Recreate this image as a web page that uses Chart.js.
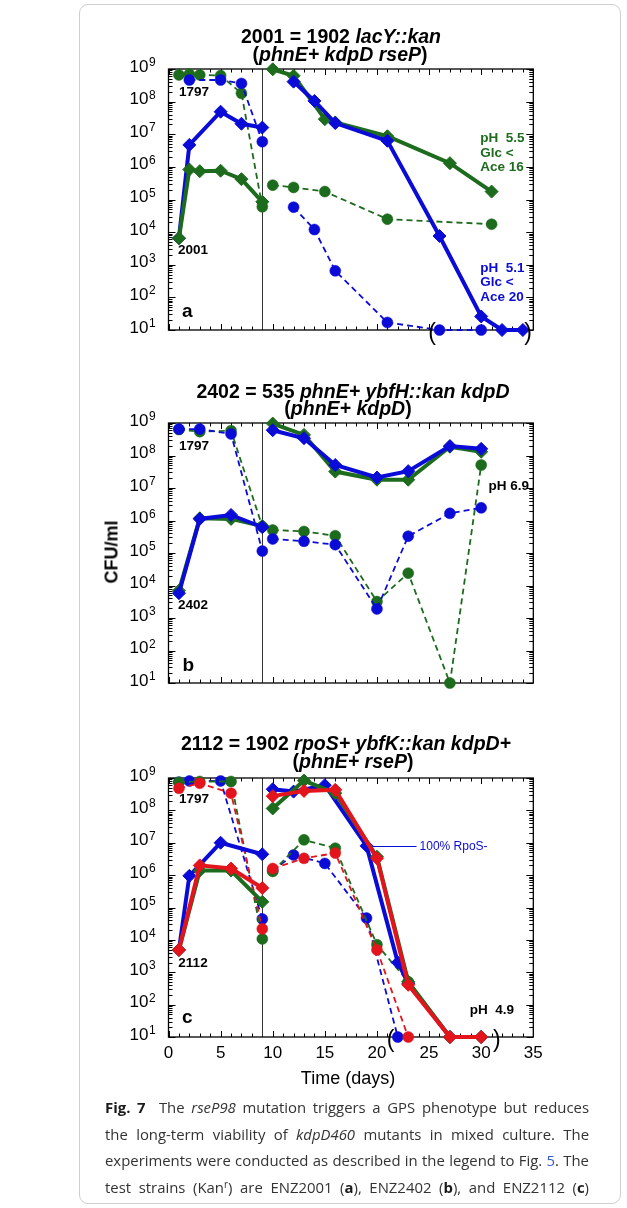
<!DOCTYPE html>
<html>
<head>
<meta charset="utf-8">
<script src="https://cdn.jsdelivr.net/npm/chart.js@4.4.1/dist/chart.umd.min.js"></script>
<style>
  html, body { margin: 0; padding: 0; background: #fff; }
  #page { position: relative; width: 627px; height: 1208px; overflow: hidden;
          font-family: "Liberation Sans", Arial, Helvetica, sans-serif; color: #000; }
  canvas { position: absolute; left: 0; top: 0; }
  .box { position: absolute; left: 79px; top: 4px; width: 542px; height: 1200px;
         border: 1px solid #cfcfcf; border-radius: 9px; box-sizing: border-box; }
  .ttl { position: absolute; width: 480px; text-align: center; font-weight: bold;
         font-size: 19.5px; line-height: 19px; white-space: nowrap; }
  .ytitle { position: absolute; left: 112px; top: 552px; font-weight: bold; font-size: 18px;
            transform: translate(-50%, -50%) rotate(-90deg); white-space: nowrap; }
  .xtitle { position: absolute; left: 348px; top: 1078px; font-size: 18px;
            transform: translate(-50%, -50%); white-space: nowrap; }
  .cap { position: absolute; left: 105px; top: 1094px; width: 484px;
         font-family: "Open Sans", "Noto Sans", sans-serif;
         font-size: 14.9px; line-height: 26.5px; color: #333; }
  .cap div { white-space: nowrap; text-align: justify; text-align-last: justify; height: 26.5px; }
  .cap b { color: #1a1a1a; }
  .cap .lnk { color: #3a5cc8; }
  .cap sup { font-size: 10px; line-height: 0; vertical-align: 5px; }
</style>
</head>
<body>
<div id="page">
  <div class="box"></div>
  <canvas id="pa" width="627" height="1208"></canvas>
  <canvas id="pb" width="627" height="1208"></canvas>
  <canvas id="pc" width="627" height="1208"></canvas>

  <div class="ttl" style="left:101px; top:26.5px;">2001 = 1902 <i>lacY::kan</i></div>
  <div class="ttl" style="left:100px; top:44.5px;">(<i>phnE+ kdpD rseP</i>)</div>
  <div class="ttl" style="left:113px; top:382px;">2402 = 535 <i>phnE+ ybfH::kan kdpD</i></div>
  <div class="ttl" style="left:108px; top:399px;">(<i>phnE+ kdpD</i>)</div>
  <div class="ttl" style="left:106px; top:734px;">2112 = 1902 <i>rpoS+ ybfK::kan kdpD+</i></div>
  <div class="ttl" style="left:113px; top:751.5px;">(<i>phnE+ rseP</i>)</div>

  <div class="ytitle">CFU/ml</div>
  <div class="xtitle">Time (days)</div>

  <div class="cap">
    <div><b>Fig. 7</b>&nbsp; The <i>rseP98</i> mutation triggers a GPS phenotype but reduces</div>
    <div>the long-term viability of <i>kdpD460</i> mutants in mixed culture. The</div>
    <div>experiments were conducted as described in the legend to Fig. <span class="lnk">5</span>. The</div>
    <div>test strains (Kan<sup>r</sup>) are ENZ2001 (<b>a</b>), ENZ2402 (<b>b</b>), and ENZ2112 (<b>c</b>)</div>
  </div>
</div>

<script>
// ---------- colours ----------
const GREEN = '#1d6b1d';
const BLUE = '#0b0bd8';
const RED = '#e3141c';

// ---------- panel a: pH 5.5 (green) and pH 5.1 (blue) ----------
// test strain 2001 (solid, diamonds)
const aGreenTestPreDays = [1, 2, 3, 5, 7, 9];
const aGreenTestPre     = [6.5e3, 8.3e5, 7.4e5, 7.6e5, 4.2e5, 8.5e4];
const aGreenTestPostDays = [10, 12, 15, 16, 21, 27, 31];
const aGreenTestPost     = [9.8e8, 6.2e8, 2.9e7, 2.3e7, 8.7e6, 1.3e6, 1.75e5];
const aBlueTestPreDays = [1, 2, 5, 7, 9];
const aBlueTestPre     = [6.5e3, 4.7e6, 4.9e7, 2.1e7, 1.6e7];
const aBlueTestPostDays = [12, 14, 16, 21, 26, 30, 32, 34];
const aBlueTestPost     = [4.1e8, 1.05e8, 2.2e7, 6.3e6, 7.6e3, 26, 10, 10];
// competitor 1797 (dashed, circles)
const aGreenCompPreDays = [1, 2, 3, 5, 7, 9];
const aGreenCompPre     = [6.6e8, 6.9e8, 6.6e8, 6.3e8, 1.8e8, 6.0e4];
const aGreenCompPostDays = [10, 12, 15, 21, 31];
const aGreenCompPost     = [2.75e5, 2.35e5, 1.75e5, 2.5e4, 1.75e4];
const aBlueCompPreDays = [2, 5, 7, 9];
const aBlueCompPre     = [4.6e8, 4.6e8, 3.6e8, 5.9e6];
const aBlueCompPostDays = [12, 14, 16, 21, 26, 30];
const aBlueCompPost     = [5.8e4, 1.2e4, 650, 17, 10, 10];

// ---------- panel b: pH 6.9 ----------
const bGreenTestPreDays = [1, 3, 6, 9];
const bGreenTestPre     = [6.9e3, 1.17e6, 1.12e6, 6.8e5];
const bGreenTestPostDays = [10, 13, 16, 20, 23, 27, 30];
const bGreenTestPost     = [9.6e8, 4.3e8, 3.2e7, 1.8e7, 1.8e7, 1.86e8, 1.3e8];
const bBlueTestPreDays = [1, 3, 6, 9];
const bBlueTestPre     = [5.8e3, 1.12e6, 1.48e6, 6.2e5];
const bBlueTestPostDays = [10, 13, 16, 20, 23, 27, 30];
const bBlueTestPost     = [6.0e8, 3.4e8, 5.1e7, 2.1e7, 3.3e7, 1.95e8, 1.6e8];
const bGreenCompPreDays = [1, 3, 6, 9];
const bGreenCompPre     = [6.3e8, 5.4e8, 5.8e8, 6.5e5];
const bGreenCompPostDays = [10, 13, 16, 20, 23, 27, 30];
const bGreenCompPost     = [5.1e5, 4.6e5, 3.4e5, 3.2e3, 2.4e4, 10, 5.1e7];
const bBlueCompPreDays = [1, 3, 6, 9];
const bBlueCompPre     = [6.5e8, 6.5e8, 4.6e8, 1.15e5];
const bBlueCompPostDays = [10, 13, 16, 20, 23, 27, 30];
const bBlueCompPost     = [2.7e5, 2.3e5, 1.8e5, 1.9e3, 3.3e5, 1.66e6, 2.45e6];

// ---------- panel c: pH 4.9 ----------
const cBlueTestPreDays = [1, 2, 5, 9];
const cBlueTestPre     = [4.9e3, 9.5e5, 1.0e7, 4.4e6];
const cBlueTestPostDays = [10, 12, 15, 19, 22, 23, 27, 30];
const cBlueTestPost     = [4.5e8, 3.8e8, 6.0e8, 8.0e6, 2.0e3, 4.6e2, 10, 10];
const cGreenTestPreDays = [1, 3, 6, 9];
const cGreenTestPre     = [4.9e3, 1.38e6, 1.38e6, 1.5e5];
const cGreenTestPostDays = [10, 13, 16, 20, 23, 27, 30];
const cGreenTestPost     = [1.15e8, 8.3e8, 3.4e8, 3.7e6, 5.1e2, 10, 10];
const cRedTestPreDays = [1, 3, 6, 9];
const cRedTestPre     = [4.9e3, 2.0e6, 1.6e6, 4.0e5];
const cRedTestPostDays = [10, 13, 16, 20, 23, 27, 30];
const cRedTestPost     = [2.75e8, 4.0e8, 4.3e8, 3.3e6, 4.1e2, 10, 10];
const cBlueCompPreDays = [1, 2, 5, 9];
const cBlueCompPre     = [7.4e8, 8.1e8, 8.1e8, 4.4e4];
const cBlueCompPostDays = [10, 12, 15, 19, 22];
const cBlueCompPost     = [1.4e6, 4.2e6, 2.3e6, 4.7e4, 10];
const cGreenCompPreDays = [1, 3, 6, 9];
const cGreenCompPre     = [7.4e8, 7.8e8, 7.8e8, 1.07e4];
const cGreenCompPostDays = [10, 13, 16, 20, 23];
const cGreenCompPost     = [1.3e6, 1.23e7, 6.8e6, 7.1e3, 5.1e2];
const cRedCompPreDays = [1, 3, 6, 9];
const cRedCompPre     = [4.8e8, 6.9e8, 3.4e8, 2.2e4];
const cRedCompPostDays = [10, 13, 16, 20, 23];
const cRedCompPost     = [1.6e6, 3.3e6, 4.8e6, 4.9e3, 10];

// ---------- axis settings ----------
const xMin = 0, xMax = 35;
const yMin = 10, yMax = 1e9;
const xTickLabels = [0, 5, 10, 15, 20, 25, 30, 35];
const decadeExponents = [1, 2, 3, 4, 5, 6, 7, 8, 9];
const dividerDay = 9;

// ---------- helpers ----------
const pts = (days, vals) => days.map((d, i) => ({ x: d, y: vals[i] }));

function testSeries(label, color, days, vals) {
  return {
    label, data: pts(days, vals), borderColor: color, backgroundColor: color,
    borderWidth: 4, pointStyle: 'rectRot', pointRadius: 6.5, pointHoverRadius: 6.5,
    pointBackgroundColor: color, pointBorderColor: color, pointBorderWidth: 1,
    tension: 0, fill: false, clip: false
  };
}
function compSeries(label, color, days, vals) {
  return {
    label, data: pts(days, vals), borderColor: color, backgroundColor: color,
    borderWidth: 1.8, borderDash: [6, 4], pointStyle: 'circle', pointRadius: 5.5, pointHoverRadius: 5.5,
    pointBackgroundColor: color, pointBorderColor: color, pointBorderWidth: 0.5,
    tension: 0, fill: false, clip: false
  };
}

const FONT = '"Liberation Sans", Arial, Helvetica, sans-serif';

function frameAxes(opts) {
  return {
    id: 'frameAxes',
    beforeDatasetsDraw(chart) {
      const { ctx, chartArea: a, scales: { x, y } } = chart;
      ctx.save();
      ctx.strokeStyle = '#000';
      ctx.lineWidth = 1;
      ctx.beginPath();
      // day ticks, top and bottom, pointing inward
      for (let d = xMin; d <= xMax; d++) {
        const px = Math.round(x.getPixelForValue(d)) + 0.5;
        const len = d % 5 === 0 ? 6 : 3.5;
        ctx.moveTo(px, a.bottom); ctx.lineTo(px, a.bottom - len);
        ctx.moveTo(px, a.top); ctx.lineTo(px, a.top + len);
      }
      // log ticks, left and right, pointing inward
      for (let e = 1; e <= 9; e++) {
        for (let m = 1; m <= 9; m++) {
          const v = m * Math.pow(10, e);
          if (v > yMax) break;
          const py = Math.round(y.getPixelForValue(v)) + 0.5;
          const len = m === 1 ? 7 : 4;
          ctx.moveTo(a.left, py); ctx.lineTo(a.left + len, py);
          ctx.moveTo(a.right, py); ctx.lineTo(a.right - len, py);
        }
      }
      ctx.stroke();
      // divider at the transfer day
      const vx = Math.round(x.getPixelForValue(dividerDay)) + 0.5;
      ctx.lineWidth = 1;
      ctx.strokeStyle = '#333';
      ctx.beginPath(); ctx.moveTo(vx, a.top); ctx.lineTo(vx, a.bottom); ctx.stroke();
      // plot frame
      ctx.strokeStyle = '#000';
      ctx.lineWidth = 1.3;
      ctx.strokeRect(a.left, a.top, a.right - a.left, a.bottom - a.top);
      // decade labels 10^n
      ctx.fillStyle = '#000';
      decadeExponents.forEach(e => {
        const py = y.getPixelForValue(Math.pow(10, e));
        ctx.font = '17px ' + FONT;
        ctx.textAlign = 'right'; ctx.textBaseline = 'alphabetic';
        ctx.fillText('10', a.left - 20, py + 2.5);
        ctx.font = '12px ' + FONT;
        ctx.textAlign = 'left';
        ctx.fillText(String(e), a.left - 19.5, py - 3);
      });
      if (opts.xLabels) {
        ctx.font = '17px ' + FONT;
        ctx.textAlign = 'center'; ctx.textBaseline = 'middle';
        xTickLabels.forEach(t => ctx.fillText(String(t), x.getPixelForValue(t), a.bottom + 16));
      }
      ctx.restore();
    },
    afterDatasetsDraw(chart) {
      const { ctx, scales: { x, y } } = chart;
      ctx.save();
      (opts.notes || []).forEach(n => {
        ctx.font = n.font;
        ctx.fillStyle = n.color || '#000';
        ctx.textAlign = n.align || 'center';
        ctx.textBaseline = 'middle';
        const px = x.getPixelForValue(n.day);
        const py = y.getPixelForValue(Math.pow(10, n.log));
        ctx.fillText(n.text, px, py);
      });
      (opts.links || []).forEach(l => {
        const py = Math.round(y.getPixelForValue(l.value)) + 0.5;
        ctx.strokeStyle = l.color; ctx.lineWidth = 1;
        ctx.beginPath();
        ctx.moveTo(x.getPixelForValue(l.fromDay) + 6, py);
        ctx.lineTo(x.getPixelForValue(l.toDay), py);
        ctx.stroke();
        ctx.font = l.font; ctx.fillStyle = l.color;
        ctx.textAlign = 'left'; ctx.textBaseline = 'middle';
        ctx.fillText(l.text, x.getPixelForValue(l.toDay) + 3, py);
      });
      ctx.restore();
    }
  };
}

function makePanel(id, area, datasets, opts) {
  const W = 627, H = 1208;
  return new Chart(document.getElementById(id), {
    type: 'line',
    data: { datasets },
    options: {
      responsive: false, animation: false, devicePixelRatio: 1,
      layout: { padding: { left: area.left, right: W - area.right, top: area.top, bottom: H - area.bottom } },
      scales: {
        x: { type: 'linear', min: xMin, max: xMax, display: false },
        y: { type: 'logarithmic', min: yMin, max: yMax, display: false }
      },
      plugins: { legend: { display: false }, tooltip: { enabled: false } },
      events: []
    },
    plugins: [frameAxes(opts)]
  });
}

const B13 = 'bold 13.5px ' + FONT;
const B19 = 'bold 19px ' + FONT;
const PAREN = '23px ' + FONT;

// panel a
makePanel('pa', { left: 168.5, right: 533.3, top: 69, bottom: 330 }, [
  testSeries('2001 pH 5.1', BLUE, aBlueTestPostDays, aBlueTestPost),
  testSeries('2001 pH 5.5', GREEN, aGreenTestPreDays, aGreenTestPre),
  testSeries('2001 pH 5.1', BLUE, aBlueTestPreDays, aBlueTestPre),
  testSeries('2001 pH 5.5', GREEN, aGreenTestPostDays, aGreenTestPost),
  compSeries('1797 pH 5.1', BLUE, aBlueCompPreDays, aBlueCompPre),
  compSeries('1797 pH 5.1', BLUE, aBlueCompPostDays, aBlueCompPost),
  compSeries('1797 pH 5.5', GREEN, aGreenCompPreDays, aGreenCompPre),
  compSeries('1797 pH 5.5', GREEN, aGreenCompPostDays, aGreenCompPost)
], {
  notes: [
    { text: '1797', day: 2.45, log: 8.29, font: B13 },
    { text: '2001', day: 2.35, log: 3.45, font: B13 },
    { text: 'a', day: 1.8, log: 1.55, font: B19 },
    { text: 'pH  5.5', day: 29.9, log: 6.88, font: B13, color: GREEN, align: 'left' },
    { text: 'Glc <', day: 29.9, log: 6.43, font: B13, color: GREEN, align: 'left' },
    { text: 'Ace 16', day: 29.9, log: 5.99, font: B13, color: GREEN, align: 'left' },
    { text: 'pH  5.1', day: 29.9, log: 2.90, font: B13, color: BLUE, align: 'left' },
    { text: 'Glc <', day: 29.9, log: 2.45, font: B13, color: BLUE, align: 'left' },
    { text: 'Ace 20', day: 29.9, log: 2.01, font: B13, color: BLUE, align: 'left' },
    { text: '(', day: 25.3, log: 0.9, font: PAREN },
    { text: ')', day: 34.5, log: 0.9, font: PAREN }
  ]
});

// panel b
makePanel('pb', { left: 168.5, right: 533.3, top: 423, bottom: 683 }, [
  testSeries('2402', BLUE, bBlueTestPreDays, bBlueTestPre),
  testSeries('2402', BLUE, bBlueTestPostDays, bBlueTestPost),
  testSeries('2402', GREEN, bGreenTestPreDays, bGreenTestPre),
  testSeries('2402', GREEN, bGreenTestPostDays, bGreenTestPost),
  compSeries('1797', BLUE, bBlueCompPreDays, bBlueCompPre),
  compSeries('1797', BLUE, bBlueCompPostDays, bBlueCompPost),
  compSeries('1797', GREEN, bGreenCompPreDays, bGreenCompPre),
  compSeries('1797', GREEN, bGreenCompPostDays, bGreenCompPost)
], {
  notes: [
    { text: '1797', day: 2.45, log: 8.27, font: B13 },
    { text: '2402', day: 2.35, log: 3.40, font: B13 },
    { text: 'b', day: 1.9, log: 1.52, font: B19 },
    { text: 'pH 6.9', day: 30.7, log: 7.04, font: B13, align: 'left' }
  ]
});

// panel c
makePanel('pc', { left: 168.5, right: 533.3, top: 778, bottom: 1037 }, [
  testSeries('2112', RED, cRedTestPreDays, cRedTestPre),
  testSeries('2112', RED, cRedTestPostDays, cRedTestPost),
  testSeries('2112', GREEN, cGreenTestPreDays, cGreenTestPre),
  testSeries('2112', GREEN, cGreenTestPostDays, cGreenTestPost),
  testSeries('2112', BLUE, cBlueTestPreDays, cBlueTestPre),
  testSeries('2112', BLUE, cBlueTestPostDays, cBlueTestPost),
  compSeries('1797', RED, cRedCompPreDays, cRedCompPre),
  compSeries('1797', RED, cRedCompPostDays, cRedCompPost),
  compSeries('1797', GREEN, cGreenCompPreDays, cGreenCompPre),
  compSeries('1797', GREEN, cGreenCompPostDays, cGreenCompPost),
  compSeries('1797', BLUE, cBlueCompPreDays, cBlueCompPre),
  compSeries('1797', BLUE, cBlueCompPostDays, cBlueCompPost)
], {
  xLabels: true,
  notes: [
    { text: '1797', day: 2.45, log: 8.35, font: B13 },
    { text: '2112', day: 2.35, log: 3.28, font: B13 },
    { text: 'c', day: 1.8, log: 1.58, font: B19 },
    { text: 'pH  4.9', day: 28.9, log: 1.84, font: B13, align: 'left' },
    { text: '(', day: 21.3, log: 0.9, font: PAREN },
    { text: ')', day: 31.5, log: 0.9, font: PAREN }
  ],
  links: [
    { text: '100% RpoS-', fromDay: 19, toDay: 23.8, value: cBlueTestPost[3], color: BLUE, font: '12px ' + FONT }
  ]
});
</script>
</body>
</html>
